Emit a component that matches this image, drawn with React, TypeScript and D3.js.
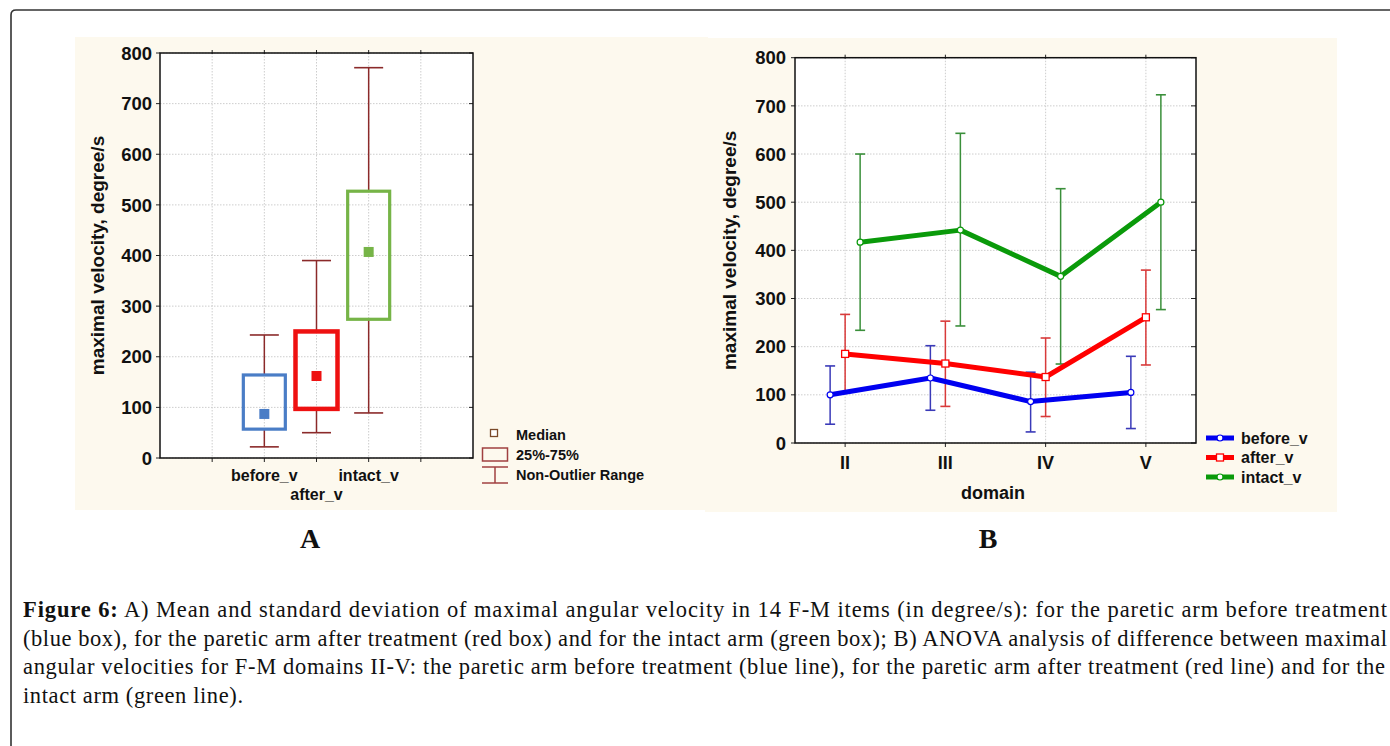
import React from "react";
import * as d3 from "d3";

// ---------- Panel A data (box plot) ----------
const boxCategories = ["before_v", "after_v", "intact_v"];
const boxQ1 = [57, 97, 274];
const boxQ3 = [164, 250, 527];
const boxMedian = [87, 162, 407];
const boxMin = [22, 50, 89];
const boxMax = [243, 390, 771];
const boxColors = ["#4a7dc6", "#ee1111", "#76b447"];

// ---------- Panel B data (means +/- SD) ----------
const domains = ["II", "III", "IV", "V"];
const seriesNames = ["before_v", "after_v", "intact_v"];
const beforeMean = [100, 135, 86, 105];
const beforeLo = [39, 68, 23, 30];
const beforeHi = [160, 202, 147, 180];
const afterMean = [185, 165, 137, 261];
const afterLo = [104, 76, 55, 162];
const afterHi = [267, 253, 218, 359];
const intactMean = [417, 442, 346, 500];
const intactLo = [234, 243, 164, 277];
const intactHi = [600, 643, 528, 723];

const yTicks = [0, 100, 200, 300, 400, 500, 600, 700, 800];
const yLabel = "maximal velocity, degree/s";

const captionLines = [
  "A) Mean and standard deviation of maximal angular velocity in 14 F-M items (in degree/s): for the paretic arm before treatment",
  "(blue box), for the paretic arm after treatment (red box) and for the intact arm (green box); B) ANOVA analysis of difference between maximal",
  "angular velocities for F-M domains II-V: the paretic arm before treatment (blue line), for the paretic arm after treatment (red line) and for the",
  "intact arm (green line).",
];

const SANS = "'Liberation Sans', Arial, sans-serif";
const SERIF = "'Liberation Serif', 'Times New Roman', serif";
const CREAM = "#fdf9ee";
const GRID = "#cdcdcd";

export default function App() {
  // ----- Panel A scales -----
  const ax = d3.scaleLinear().domain([-2, 4]).range([160, 473]);
  const ay = d3.scaleLinear().domain([0, 800]).range([458, 53]);
  const aGridX = d3.range(-1, 4);
  const boxW = 42;
  const capW = 29;

  // ----- Panel B scales -----
  const bx = d3.scalePoint<string>().domain(domains).range([795, 1196]).padding(0.5);
  const by = d3.scaleLinear().domain([0, 800]).range([443, 57.7]);
  const off = d3.scalePoint<string>().domain(seriesNames).range([-15, 15]);
  const bSeries = [
    { name: "before_v", mean: beforeMean, lo: beforeLo, hi: beforeHi, line: "#0000f0", err: "#3a3ab8", marker: "circle" },
    { name: "after_v", mean: afterMean, lo: afterLo, hi: afterHi, line: "#ff0000", err: "#d83a3a", marker: "square" },
    { name: "intact_v", mean: intactMean, lo: intactLo, hi: intactHi, line: "#0a9a0a", err: "#3a8f3a", marker: "circle" },
  ];
  const lineGen = d3.line<[number, number]>().x((d) => d[0]).y((d) => d[1]);

  const [aL, aR] = ax.range();
  const [aB, aT] = ay.range();
  const [bL, bR] = bx.range();
  const [bB, bT] = by.range();

  return (
    <svg width={1390} height={746} style={{ position: "absolute", left: 0, top: 0, background: "#fff" }}>
      {/* outer frame */}
      <path d="M11,746 V15 Q11,10 16,10 H1390" fill="none" stroke="#333" strokeWidth={1.6} />

      {/* ================= Panel A ================= */}
      <rect x={75} y={37} width={633} height={473} fill={CREAM} />
      <rect x={aL} y={aT} width={aR - aL} height={aB - aT} fill="#fff" />
      {yTicks.map((t) => (
        <line key={"agy" + t} x1={aL} x2={aR} y1={ay(t)} y2={ay(t)} stroke={GRID} strokeDasharray="1.5,1.5" />
      ))}
      {aGridX.map((g) => (
        <line key={"agx" + g} x1={ax(g)} x2={ax(g)} y1={aT} y2={aB} stroke={GRID} strokeDasharray="1.5,1.5" />
      ))}
      {/* ticks */}
      {yTicks.map((t) => (
        <g key={"aty" + t}>
          <line x1={aL - 4} x2={aL} y1={ay(t)} y2={ay(t)} stroke="#222" />
          <line x1={aR - 4} x2={aR} y1={ay(t)} y2={ay(t)} stroke="#222" />
          <text x={152} y={ay(t)} dy="0.36em" textAnchor="end" fontFamily={SANS} fontWeight="bold" fontSize={18.5} fill="#111">
            {t}
          </text>
        </g>
      ))}
      {aGridX.map((g) => (
        <g key={"atx" + g}>
          <line x1={ax(g)} x2={ax(g)} y1={aB} y2={aB + 4} stroke="#222" />
          <line x1={ax(g)} x2={ax(g)} y1={aT - 3} y2={aT + 1} stroke="#222" />
        </g>
      ))}
      {/* boxes */}
      {boxCategories.map((c, i) => {
        const cx = ax(i);
        const col = boxColors[i];
        const sw = i === 1 ? 4.5 : 3.2;
        return (
          <g key={"box" + c}>
            <line x1={cx} x2={cx} y1={ay(boxMax[i])} y2={ay(boxQ3[i])} stroke="#8b2a2a" strokeWidth={1.5} />
            <line x1={cx} x2={cx} y1={ay(boxQ1[i])} y2={ay(boxMin[i])} stroke="#8b2a2a" strokeWidth={1.5} />
            <line x1={cx - capW / 2} x2={cx + capW / 2} y1={ay(boxMax[i])} y2={ay(boxMax[i])} stroke="#8b2a2a" strokeWidth={1.6} />
            <line x1={cx - capW / 2} x2={cx + capW / 2} y1={ay(boxMin[i])} y2={ay(boxMin[i])} stroke="#8b2a2a" strokeWidth={1.6} />
            <rect
              x={cx - boxW / 2}
              y={ay(boxQ3[i])}
              width={boxW}
              height={ay(boxQ1[i]) - ay(boxQ3[i])}
              fill="none"
              stroke={col}
              strokeWidth={sw}
            />
            <rect x={cx - 5} y={ay(boxMedian[i]) - 5} width={10} height={10} fill={col} />
            <text
              x={cx}
              y={i % 2 === 1 ? 500 : 481}
              textAnchor="middle"
              fontFamily={SANS}
              fontWeight="bold"
              fontSize={16}
              fill="#111"
            >
              {c}
            </text>
          </g>
        );
      })}
      <rect x={aL} y={aT} width={aR - aL} height={aB - aT} fill="none" stroke="#111" strokeWidth={1.5} />
      <text
        transform={`translate(97,${(aT + aB) / 2}) rotate(-90)`}
        textAnchor="middle"
        dy="0.36em"
        fontFamily={SANS}
        fontWeight="bold"
        fontSize={19}
        fill="#111"
      >
        {yLabel}
      </text>
      {/* legend A */}
      <rect x={490.5} y={429.5} width={7} height={7} fill="#fff" stroke="#7a4a2a" strokeWidth={1.3} />
      <text x={516} y={440} fontFamily={SANS} fontWeight="bold" fontSize={14.5} fill="#111">Median</text>
      <rect x={482.5} y={448} width={25} height={13} fill="none" stroke="#a04040" strokeWidth={1.5} />
      <text x={516} y={460} fontFamily={SANS} fontWeight="bold" fontSize={14.5} fill="#111">25%-75%</text>
      <line x1={482} x2={508} y1={467} y2={467} stroke="#a04040" strokeWidth={1.5} />
      <line x1={495} x2={495} y1={467} y2={483} stroke="#a04040" strokeWidth={1.5} />
      <line x1={482} x2={508} y1={483} y2={483} stroke="#a04040" strokeWidth={1.5} />
      <text x={516} y={480} fontFamily={SANS} fontWeight="bold" fontSize={14.5} fill="#111">Non-Outlier Range</text>

      {/* ================= Panel B ================= */}
      <rect x={705} y={38} width={632} height={474} fill={CREAM} />
      <rect x={bL} y={bT} width={bR - bL} height={bB - bT} fill="#fff" />
      {yTicks.map((t) => (
        <line key={"bgy" + t} x1={bL} x2={bR} y1={by(t)} y2={by(t)} stroke={GRID} strokeDasharray="1.5,1.5" />
      ))}
      {domains.map((d) => (
        <line key={"bgx" + d} x1={bx(d)!} x2={bx(d)!} y1={bT} y2={bB} stroke={GRID} strokeDasharray="1.5,1.5" />
      ))}
      {yTicks.map((t) => (
        <g key={"bty" + t}>
          <line x1={bL - 4} x2={bL} y1={by(t)} y2={by(t)} stroke="#222" />
          <line x1={bR - 5} x2={bR} y1={by(t)} y2={by(t)} stroke="#222" />
          <text x={786} y={by(t)} dy="0.36em" textAnchor="end" fontFamily={SANS} fontWeight="bold" fontSize={18.5} fill="#111">
            {t}
          </text>
        </g>
      ))}
      {domains.map((d) => (
        <g key={"btx" + d}>
          <line x1={bx(d)!} x2={bx(d)!} y1={bB} y2={bB + 4} stroke="#222" />
          <line x1={bx(d)!} x2={bx(d)!} y1={bT - 3} y2={bT + 1} stroke="#222" />
          <text x={bx(d)!} y={469} textAnchor="middle" fontFamily={SANS} fontWeight="bold" fontSize={18} fill="#111">
            {d}
          </text>
        </g>
      ))}
      {/* error bars */}
      {bSeries.map((s) => (
        <g key={"err" + s.name}>
          {domains.map((d, i) => {
            const x = bx(d)! + off(s.name)!;
            return (
              <g key={d}>
                <line x1={x} x2={x} y1={by(s.hi[i])} y2={by(s.lo[i])} stroke={s.err} strokeWidth={1.5} />
                <line x1={x - 5} x2={x + 5} y1={by(s.hi[i])} y2={by(s.hi[i])} stroke={s.err} strokeWidth={1.6} />
                <line x1={x - 5} x2={x + 5} y1={by(s.lo[i])} y2={by(s.lo[i])} stroke={s.err} strokeWidth={1.6} />
              </g>
            );
          })}
        </g>
      ))}
      {/* mean lines */}
      {bSeries.map((s) => {
        const pts: [number, number][] = domains.map((d, i) => [bx(d)! + off(s.name)!, by(s.mean[i])]);
        return (
          <g key={"line" + s.name}>
            <path d={lineGen(pts) || ""} fill="none" stroke={s.line} strokeWidth={5} strokeLinejoin="round" />
            {pts.map((p, i) =>
              s.marker === "square" ? (
                <rect key={i} x={p[0] - 3.5} y={p[1] - 3.5} width={7} height={7} fill="#fff" stroke={s.line} strokeWidth={1.3} />
              ) : (
                <circle key={i} cx={p[0]} cy={p[1]} r={3} fill="#fff" stroke={s.line} strokeWidth={1.2} />
              )
            )}
          </g>
        );
      })}
      <rect x={bL} y={bT} width={bR - bL} height={bB - bT} fill="none" stroke="#111" strokeWidth={1.5} />
      <text
        transform={`translate(729,${(bT + bB) / 2}) rotate(-90)`}
        textAnchor="middle"
        dy="0.36em"
        fontFamily={SANS}
        fontWeight="bold"
        fontSize={19}
        fill="#111"
      >
        {yLabel}
      </text>
      <text x={993} y={499} textAnchor="middle" fontFamily={SANS} fontWeight="bold" fontSize={18} fill="#111">
        domain
      </text>
      {/* legend B */}
      {bSeries.map((s, i) => {
        const ly = 438 + i * 19.5;
        return (
          <g key={"lg" + s.name}>
            <line x1={1206} x2={1234} y1={ly} y2={ly} stroke={s.line} strokeWidth={5} />
            {s.marker === "square" ? (
              <rect x={1216.5} y={ly - 3.5} width={7} height={7} fill="#fff" stroke={s.line} strokeWidth={1.3} />
            ) : (
              <circle cx={1220} cy={ly} r={3} fill="#fff" stroke={s.line} strokeWidth={1.2} />
            )}
            <text x={1241} y={ly + 5.5} fontFamily={SANS} fontWeight="bold" fontSize={16} fill="#111">
              {s.name}
            </text>
          </g>
        );
      })}

      {/* panel letters */}
      <text x={310} y={548} textAnchor="middle" fontFamily={SERIF} fontWeight="bold" fontSize={28} fill="#111">A</text>
      <text x={988} y={548} textAnchor="middle" fontFamily={SERIF} fontWeight="bold" fontSize={28} fill="#111">B</text>

      {/* caption */}
      <text x={23} y={617} fontFamily={SERIF} fontSize={22.5} fill="#111" textLength={1364} lengthAdjust="spacing">
        <tspan fontWeight="bold">Figure 6:</tspan> {captionLines[0]}
      </text>
      <text x={23} y={645.5} fontFamily={SERIF} fontSize={22.5} fill="#111" textLength={1364} lengthAdjust="spacing">
        {captionLines[1]}
      </text>
      <text x={23} y={674} fontFamily={SERIF} fontSize={22.5} fill="#111" textLength={1362} lengthAdjust="spacing">
        {captionLines[2]}
      </text>
      <text x={23} y={702.5} fontFamily={SERIF} fontSize={22.5} fill="#111" textLength={220} lengthAdjust="spacing">
        {captionLines[3]}
      </text>
    </svg>
  );
}
